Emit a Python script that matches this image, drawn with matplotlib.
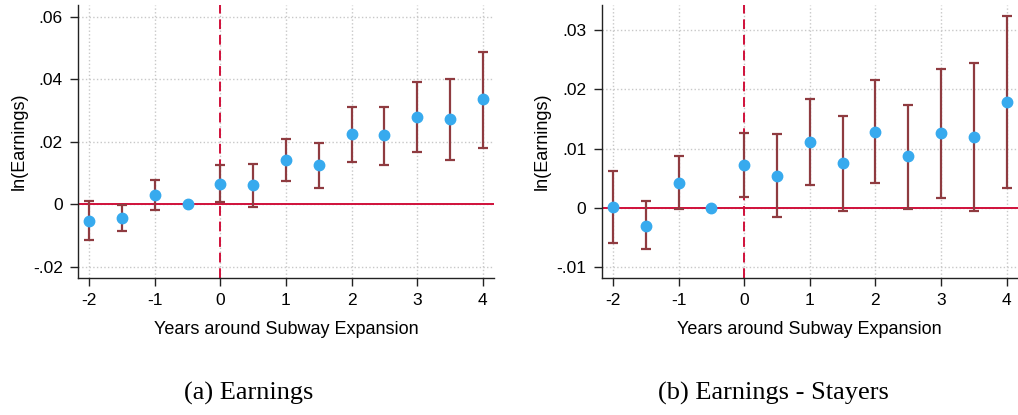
import numpy as np
import matplotlib.pyplot as plt

# event time
years = np.array([-2, -1.5, -1, -0.5, 0, 0.5, 1, 1.5, 2, 2.5, 3, 3.5, 4])

# (a) Earnings
est_a = np.array([-0.0053, -0.0045, 0.0029, 0.0, 0.0066, 0.0061, 0.0141, 0.0126,
                  0.0224, 0.0220, 0.0280, 0.0272, 0.0335])
hi_a = np.array([0.0010, -0.0003, 0.0079, 0.0, 0.0125, 0.0129, 0.0209, 0.0197,
                 0.0312, 0.0311, 0.0392, 0.0400, 0.0488])
lo_a = np.array([-0.0115, -0.0086, -0.0019, 0.0, 0.0007, -0.0007, 0.0074, 0.0053,
                 0.0134, 0.0127, 0.0168, 0.0142, 0.0180])

# (b) Earnings - Stayers
est_b = np.array([0.0001, -0.0030, 0.0042, 0.0, 0.0072, 0.0054, 0.0111, 0.0075,
                  0.0128, 0.0087, 0.0126, 0.0120, 0.0178])
hi_b = np.array([0.0062, 0.0011, 0.0087, 0.0, 0.0127, 0.0124, 0.0184, 0.0155,
                 0.0215, 0.0173, 0.0234, 0.0245, 0.0323])
lo_b = np.array([-0.0059, -0.0070, -0.0002, 0.0, 0.0018, -0.0016, 0.0039, -0.0006,
                 0.0042, -0.0001, 0.0017, -0.0005, 0.0034])

xticks = [-2, -1, 0, 1, 2, 3, 4]
yticks_a = [-0.02, 0, 0.02, 0.04, 0.06]
ylabels_a = ['-.02', '0', '.02', '.04', '.06']
yticks_b = [-0.01, 0, 0.01, 0.02, 0.03]
ylabels_b = ['-.01', '0', '.01', '.02', '.03']

plt.rcParams['font.family'] = ['Liberation Sans', 'DejaVu Sans']

fig = plt.figure(figsize=(10.18, 4.15), dpi=100)
ax1 = fig.add_axes([0.0766, 0.330, 0.4086, 0.658])
ax2 = fig.add_axes([0.5911, 0.330, 0.4086, 0.658])

red = '#d0103a'
bar = '#8f3b40'
dot = '#37aaee'

def panel(ax, est, lo, hi, yt, yl, ylim):
    ax.axhline(0, color=red, lw=1.4, zorder=2)
    ax.axvline(0, color=red, lw=1.4, ls=(0, (5, 3)), zorder=2)
    has_ci = hi != lo
    ax.errorbar(years[has_ci], est[has_ci],
                yerr=[est[has_ci] - lo[has_ci], hi[has_ci] - est[has_ci]],
                fmt='none', ecolor=bar, elinewidth=1.6, capsize=3.5, capthick=1.6, zorder=3)
    ax.plot(years, est, 'o', color=dot, ms=7.5, zorder=4)
    ax.set_xlim(-2.17, 4.17)
    ax.set_ylim(*ylim)
    ax.set_xticks(xticks)
    ax.set_xticklabels([str(t) for t in xticks])
    ax.set_yticks(yt)
    ax.set_yticklabels(yl)
    ax.grid(True, color='#c8c8c8', ls=':', lw=1.0)
    ax.set_axisbelow(True)
    for s in ['top', 'right']:
        ax.spines[s].set_visible(False)
    for s in ['left', 'bottom']:
        ax.spines[s].set_color('#222222')
        ax.spines[s].set_linewidth(1.0)
    ax.tick_params(labelsize=12.5, length=6, width=1.0, color='#222222', pad=5)
    ax.set_xlabel('Years around Subway Expansion', fontsize=13, labelpad=9)
    ax.set_ylabel('ln(Earnings)', fontsize=13, labelpad=4)

panel(ax1, est_a, lo_a, hi_a, yticks_a, ylabels_a, (-0.02356, 0.0637))
panel(ax2, est_b, lo_b, hi_b, yticks_b, ylabels_b, (-0.01182, 0.0342))

fig.text(0.2446, 0.053, '(a) Earnings', family=['Liberation Serif', 'DejaVu Serif'],
         fontsize=19, ha='center', va='center')
fig.text(0.760, 0.053, '(b) Earnings - Stayers', family=['Liberation Serif', 'DejaVu Serif'],
         fontsize=19, ha='center', va='center')

fig.savefig('out.png', dpi=100)
